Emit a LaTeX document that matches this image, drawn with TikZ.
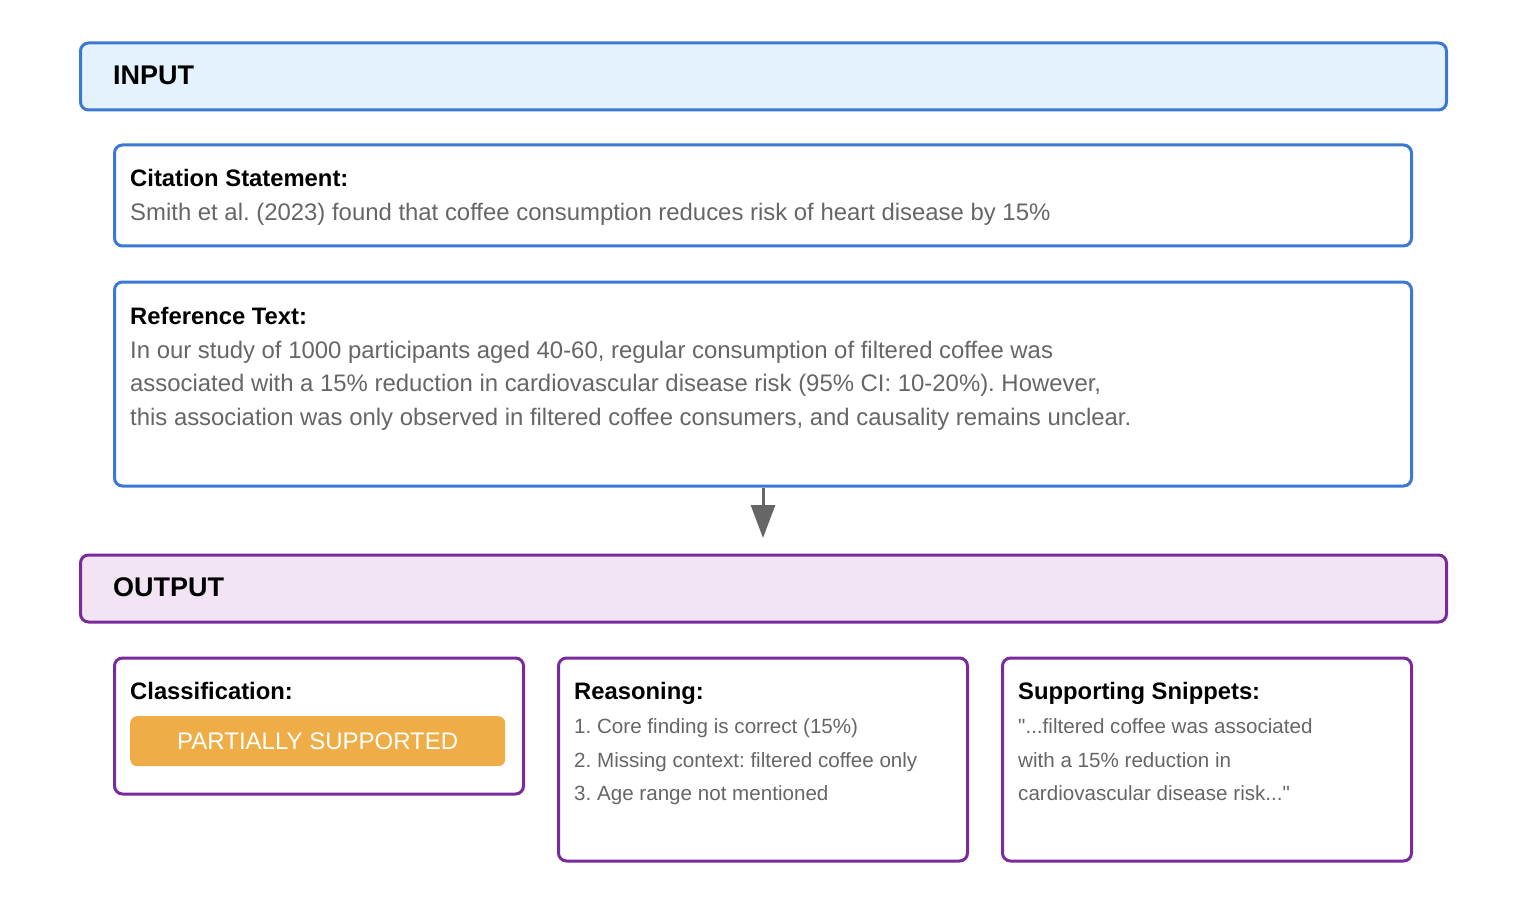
\documentclass[tikz,border=0pt]{standalone}
\usepackage{fontspec}
\setmainfont{Liberation Sans}[Ligatures=TeXOff]
\usetikzlibrary{arrows.meta}
\definecolor{inblue}{HTML}{3A78D4}
\definecolor{infill}{HTML}{E3F2FC}
\definecolor{outpurple}{HTML}{7B2A9E}
\definecolor{outfill}{HTML}{F2E4F3}
\definecolor{bodygray}{HTML}{666666}
\definecolor{badge}{HTML}{EFAD48}
\definecolor{arrowgray}{HTML}{666666}
\tikzset{
  box/.style={draw, line width=3pt, rounded corners=8pt, anchor=north west, inner sep=0pt},
  inbox/.style={box, draw=inblue},
  outbox/.style={box, draw=outpurple},
  header/.style={anchor=base west, font=\fontsize{27}{30}\selectfont\bfseries, text=black, inner sep=0pt},
  ttl/.style={anchor=base west, font=\fontsize{23.8}{28}\selectfont\bfseries, text=black, inner sep=0pt},
  body/.style={anchor=base west, font=\fontsize{23.9}{28}\selectfont, text=bodygray, inner sep=0pt},
  small/.style={anchor=base west, font=\fontsize{20.6}{24}\selectfont, text=bodygray, inner sep=0pt},
  conn/.style={draw=arrowgray, line width=3pt, -{Triangle[length=33pt,width=24pt]}},
}
\begin{document}
\frenchspacing
\begin{tikzpicture}[x=1pt,y=-1pt]
\useasboundingbox[fill=white] (0,0) rectangle (1526,912);
% INPUT header
\node[inbox, fill=infill, minimum width=1366pt, minimum height=67pt] (inhead) at (79,41.5) {};
\node[header] (intxt) at (113,84.5) {INPUT};
% Citation box
\node[inbox, fill=white, minimum width=1297pt, minimum height=101pt] (cit) at (113,143.5) {};
\node[ttl] (citt) at (130,187) {Citation Statement:};
\node[body] (citb) at (130,221) {Smith et al. (2023) found that coffee consumption reduces risk of heart disease by 15\%};
% Reference box
\node[inbox, fill=white, minimum width=1297pt, minimum height=204pt] (ref) at (113,280.5) {};
\node[ttl] (reft) at (130,324) {Reference Text:};
\node[body] (ref1) at (130,358) {In our study of 1000 participants aged 40-60, regular consumption of filtered coffee was};
\node[body] (ref2) at (130,391.5) {associated with a 15\% reduction in cardiovascular disease risk (95\% CI: 10-20\%). However,};
\node[body] (ref3) at (130,425) {this association was only observed in filtered coffee consumers, and causality remains unclear.};
% Arrow
\coordinate (arrend) at (761.5,538);
\draw[conn] (ref.south) -- (ref.south |- arrend);
% OUTPUT header
\node[outbox, fill=outfill, minimum width=1366pt, minimum height=67pt] (outhead) at (79,553.5) {};
\node[header] (outtxt) at (113,596.5) {OUTPUT};
% Classification
\node[outbox, fill=white, minimum width=409pt, minimum height=136pt] (cls) at (113,656.5) {};
\node[ttl] (clst) at (130,699.5) {Classification:};
\node[anchor=north west, fill=badge, rounded corners=7pt, minimum width=375pt, minimum height=50pt, inner sep=0pt,
      text=white, font=\fontsize{24}{28}\selectfont] (badge) at (130,716) {PARTIALLY SUPPORTED};
% Reasoning
\node[outbox, fill=white, minimum width=409pt, minimum height=203pt] (rea) at (557,656.5) {};
\node[ttl] (reat) at (574,699.5) {Reasoning:};
\node[small] (rea1) at (574,733.5) {1. Core finding is correct (15\%)};
\node[small] (rea2) at (574,767) {2. Missing context: filtered coffee only};
\node[small] (rea3) at (574,800) {3. Age range not mentioned};
% Supporting snippets
\node[outbox, fill=white, minimum width=409pt, minimum height=203pt] (sup) at (1001,656.5) {};
\node[ttl] (supt) at (1018,699.5) {Supporting Snippets:};
\node[small] (sup1) at (1018,733.5) {"...filtered coffee was associated};
\node[small] (sup2) at (1018,767) {with a 15\% reduction in};
\node[small] (sup3) at (1018,800) {cardiovascular disease risk..."};
\end{tikzpicture}
\end{document}
